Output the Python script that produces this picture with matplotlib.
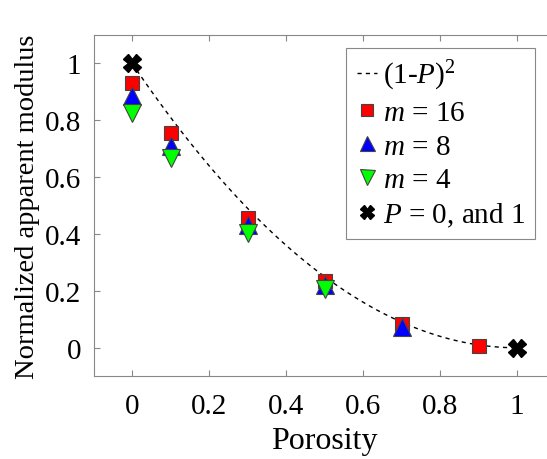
import numpy as np
import matplotlib
matplotlib.use("Agg")
import matplotlib.pyplot as plt

plt.rcParams['font.family'] = ['Liberation Serif', 'DejaVu Serif']
plt.rcParams['mathtext.fontset'] = 'custom'
plt.rcParams['mathtext.rm'] = 'Liberation Serif'
plt.rcParams['mathtext.it'] = 'Liberation Serif:italic'

# data
P_16 = [0.0, 0.1, 0.3, 0.5, 0.7, 0.9]
E_16 = [0.93, 0.754, 0.455, 0.235, 0.085, 0.007]
P_8 = [0.0, 0.1, 0.3, 0.5, 0.7]
E_8 = [0.884, 0.71, 0.43, 0.22, 0.072]
P_4 = [0.0, 0.1, 0.3, 0.5]
E_4 = [0.826, 0.667, 0.405, 0.205]
P_end = [0.0, 1.0]
E_end = [1.0, 0.0]

# model curve (1-P)^2
P_fit = np.linspace(0, 1, 101)
E_fit = (1 - P_fit) ** 2

fig = plt.figure(figsize=(5.47, 4.6), dpi=100)
ax = fig.add_axes([0.171, 0.180, 0.845, 0.742])

ax.plot(P_fit, E_fit, 'k--', lw=1.0, dashes=(3, 3), label='(1-$P$)$^2$', zorder=1)
ax.plot(P_16, E_16, 's', ms=10, mfc='red', mec='#444444', mew=0.8,
        ls='none', label='$m$ = 16', zorder=2)
ax.plot(P_8, E_8, '^', ms=13.5, mfc='blue', mec='#444444', mew=0.8,
        ls='none', label='$m$ = 8', zorder=3)
ax.plot(P_4, E_4, 'v', ms=13.5, mfc='#00ff00', mec='#444444', mew=0.8,
        ls='none', label='$m$ = 4', zorder=4)
ax.plot(P_end, E_end, 'X', ms=12.5, mfc='black', mec='black',
        ls='none', label='$P$ = 0, and 1', zorder=5)

ax.set_xlim(-0.1, 1.1)
ax.set_ylim(-0.1, 1.1)
ax.set_xticks([0, 0.2, 0.4, 0.6, 0.8, 1])
ax.set_xticklabels(['0', '0.2', '0.4', '0.6', '0.8', '1'])
ax.set_yticks([0, 0.2, 0.4, 0.6, 0.8, 1])
ax.set_yticklabels(['0', '0.2', '0.4', '0.6', '0.8', '1'])
ax.tick_params(direction='in', top=True, right=True, labelsize=21,
               length=4, color='#888888')
ax.tick_params(axis='x', pad=12)
ax.tick_params(axis='y', pad=9)
for s in ax.spines.values():
    s.set_color('#888888')

ax.set_xlabel('Porosity', fontsize=23, labelpad=5)
ax.set_ylabel('Normalized apparent modulus', fontsize=20.5, labelpad=3)

leg = ax.legend(loc='upper right', bbox_to_anchor=(0.956, 0.962), fontsize=21,
                handlelength=0.7, handletextpad=0.2, borderpad=0.35,
                borderaxespad=0, labelspacing=0.25, markerscale=0.8,
                fancybox=False, framealpha=1, edgecolor='#888888')
leg.get_frame().set_linewidth(0.8)

plt.savefig('out.png', dpi=100)
